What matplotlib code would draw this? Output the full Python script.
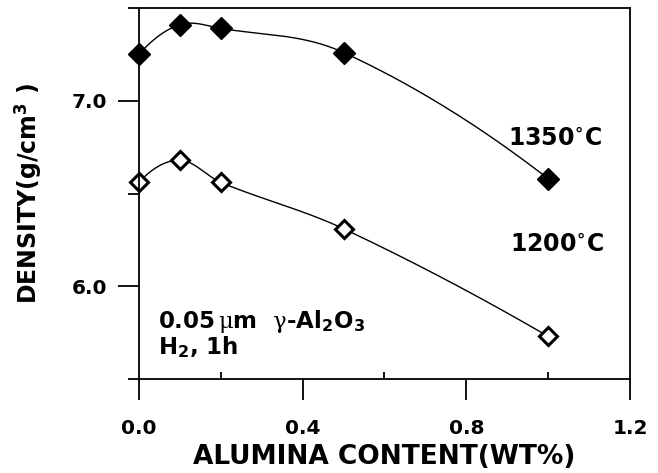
import numpy as np
import matplotlib
matplotlib.use("Agg")
import matplotlib.pyplot as plt
from matplotlib.ticker import MultipleLocator

plt.rcParams['font.family'] = ['DejaVu Sans']
plt.rcParams['font.weight'] = 'bold'
plt.rcParams['mathtext.fontset'] = 'custom'
plt.rcParams['mathtext.rm'] = 'DejaVu Sans:bold'
plt.rcParams['mathtext.bf'] = 'DejaVu Sans:bold'
plt.rcParams['mathtext.it'] = 'DejaVu Serif:normal'

# data
alumina = [0.0, 0.1, 0.2, 0.5, 1.0]
dens_1350 = [7.25, 7.41, 7.39, 7.26, 6.58]
dens_1200 = [6.56, 6.68, 6.56, 6.31, 5.73]


def smooth_curve(x, y, xs):
    # cubic hermite through the points, tangents from neighbouring points
    x = np.asarray(x, float)
    y = np.asarray(y, float)
    n = len(x)
    m = np.zeros(n)
    for i in range(1, n - 1):
        m[i] = (y[i + 1] - y[i - 1]) / (x[i + 1] - x[i - 1])
    m[0] = 2 * (y[1] - y[0]) / (x[1] - x[0]) - m[1]
    m[-1] = 2 * (y[-1] - y[-2]) / (x[-1] - x[-2]) - m[-2]
    idx = np.clip(np.searchsorted(x, xs) - 1, 0, n - 2)
    h = x[idx + 1] - x[idx]
    t = (xs - x[idx]) / h
    h00 = 2 * t ** 3 - 3 * t ** 2 + 1
    h10 = t ** 3 - 2 * t ** 2 + t
    h01 = -2 * t ** 3 + 3 * t ** 2
    h11 = t ** 3 - t ** 2
    return h00 * y[idx] + h10 * h * m[idx] + h01 * y[idx + 1] + h11 * h * m[idx + 1]


xs = np.linspace(alumina[0], alumina[-1], 300)

fig = plt.figure(figsize=(6.58, 4.73), dpi=100)
ax = fig.add_axes([0.2112, 0.1987, 0.7462, 0.7844])

ax.plot(xs, smooth_curve(alumina, dens_1350, xs), color='black', lw=1.0)
ax.plot(xs, smooth_curve(alumina, dens_1200, xs), color='black', lw=1.0)
ax.plot(alumina, dens_1350, ls='none', marker='D', ms=11, color='black',
        clip_on=False)
ax.plot(alumina, dens_1200, ls='none', marker='D', ms=9, mfc='white',
        mec='black', mew=2.2, clip_on=False)

ax.set_xlim(0.0, 1.2)
ax.set_ylim(5.5, 7.5)
ax.set_xticks([0.0, 0.4, 0.8, 1.2])
ax.set_xticklabels(['0.0', '0.4', '0.8', '1.2'])
ax.xaxis.set_minor_locator(MultipleLocator(0.2))
ax.set_yticks([6.0, 7.0])
ax.set_yticklabels(['6.0', '7.0'])
ax.yaxis.set_minor_locator(MultipleLocator(0.5))

ax.tick_params(axis='x', which='major', direction='out', length=15, width=1.3,
               pad=14, labelsize=14.5)
ax.tick_params(axis='x', which='minor', direction='in', length=5, width=1.3)
ax.tick_params(axis='y', which='major', direction='out', length=15, width=1.3,
               pad=8, labelsize=14.5)
ax.tick_params(axis='y', which='minor', direction='out', length=8, width=1.3)
for s in ax.spines.values():
    s.set_linewidth(1.3)

ax.set_xlabel('ALUMINA CONTENT(WT%)', fontsize=19, fontweight='bold', labelpad=4)
ax.set_ylabel(r'DENSITY(g/cm$^3$ )', fontsize=17, fontweight='bold', labelpad=20)

ax.text(0.902, 6.762, r'1350$^{\circ}$C', fontsize=17, fontweight='bold',
        ha='left', va='baseline')
ax.text(0.907, 6.189, r'1200$^{\circ}$C', fontsize=17, fontweight='bold',
        ha='left', va='baseline')
ax.text(0.046, 5.773, r'0.05$\,\mu$m  $\gamma$-Al$_2$O$_3$', fontsize=16.5,
        fontweight='bold', ha='left', va='baseline')
ax.text(0.046, 5.632, r'H$_2$, 1h', fontsize=16.5, fontweight='bold',
        ha='left', va='baseline')

fig.savefig('out.png', dpi=100)
